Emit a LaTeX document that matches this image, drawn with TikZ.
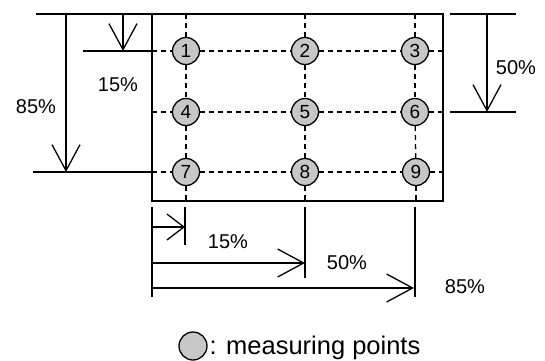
\documentclass[tikz,border=0pt]{standalone}
\usepackage{fontspec}
\setmainfont{Liberation Sans}
\usetikzlibrary{arrows.meta, positioning}

\begin{document}
\begin{tikzpicture}[x=1pt, y=-1pt, line width=1.3pt,
    >={Straight Barb[length=26pt,width=28pt]},
    pt/.style={circle, draw, fill=black!22, minimum size=27pt, inner sep=0pt, font=\fontsize{19}{19}\selectfont},
    lbl/.style={inner sep=0pt, font=\fontsize{20}{20}\selectfont},
    grid/.style={dash pattern=on 5pt off 4pt}]
    \useasboundingbox (0,0) rectangle (545,360);
    \coordinate (nw) at (152,14);
    \coordinate (se) at (443,201);
    \draw[line width=2.4pt] (nw) rectangle (se);
    % measuring points
    \node[pt] (p1) at (186,51) {\raisebox{-1.5pt}{1}};
    \node[pt] (p2) at (305,51) {\raisebox{-1.5pt}{2}};
    \node[pt] (p3) at (415,51) {\raisebox{-1.5pt}{3}};
    \node[pt] (p4) at (186,112) {\raisebox{-1.5pt}{4}};
    \node[pt] (p5) at (305,112) {\raisebox{-1.5pt}{5}};
    \node[pt] (p6) at (415,112) {\raisebox{-1.5pt}{6}};
    \node[pt] (p7) at (186,172) {\raisebox{-1.5pt}{7}};
    \node[pt] (p8) at (305,172) {\raisebox{-1.5pt}{8}};
    \node[pt] (p9) at (416,172) {\raisebox{-1.5pt}{9}};
    \path[grid]
    (p1 |- nw) edge (p1) (p1) edge (p4) (p4) edge (p7) (p7) edge (p7 |- se)
    (p2 |- nw) edge (p2) (p2) edge (p5) (p5) edge (p8) (p8) edge (p8 |- se)
    (p3 |- nw) edge (p3) (p3) edge (p6) (p6) edge (p9) (p9) edge (p9 |- se)
    (nw |- p1) edge (p1) (p1) edge (p2) (p2) edge (p3) (p3) edge (se |- p3)
    (nw |- p4) edge (p4) (p4) edge (p5) (p5) edge (p6) (p6) edge (se |- p4)
    (nw |- p7) edge (p7) (p7) edge (p8) (p8) edge (p9) (p9) edge (se |- p7)
    ;
    % left and right dimensions
    \draw (36,14) -- (nw);
    \draw (83,51) -- (nw |- p1);
    \draw (33,172) -- (nw |- p7);
    \draw (450,14) -- (516,14);
    \draw (450,112) -- (516,112);
    \draw[->] (66,14) -- (66,172);
    \draw[->] (123,14) -- (123,51);
    \draw[->] (487,14) -- (487,112);
    \node[lbl] (v85) at (36,107) {85\%};
    \node[lbl] (v15) at (118,85) {15\%};
    \node[lbl] (v50) at (516,68) {50\%};
    % bottom dimensions
    \draw (152,207) -- (152,297);
    \draw (185,207) -- (185,245);
    \draw (305,207) -- (305,278);
    \draw (415,207) -- (415,297);
    \draw[->, >={Straight Barb[length=17pt,width=26pt]}] (152,227) -- (185,227);
    \draw[->] (152,263) -- (305,263);
    \draw[->] (152,288) -- (414,288);
    \node[lbl] (h15) at (228,242) {15\%};
    \node[lbl] (h50) at (347,263) {50\%};
    \node[lbl] (h85) at (465,287) {85\%};
    % legend
    \node[pt, minimum size=28pt] (leg) at (193,346) {};
    \node[inner sep=0pt, anchor=base west, font=\fontsize{25.5}{25.5}\selectfont] (legtxt) at (209,354) {: measuring points};
\end{tikzpicture}
\end{document}
